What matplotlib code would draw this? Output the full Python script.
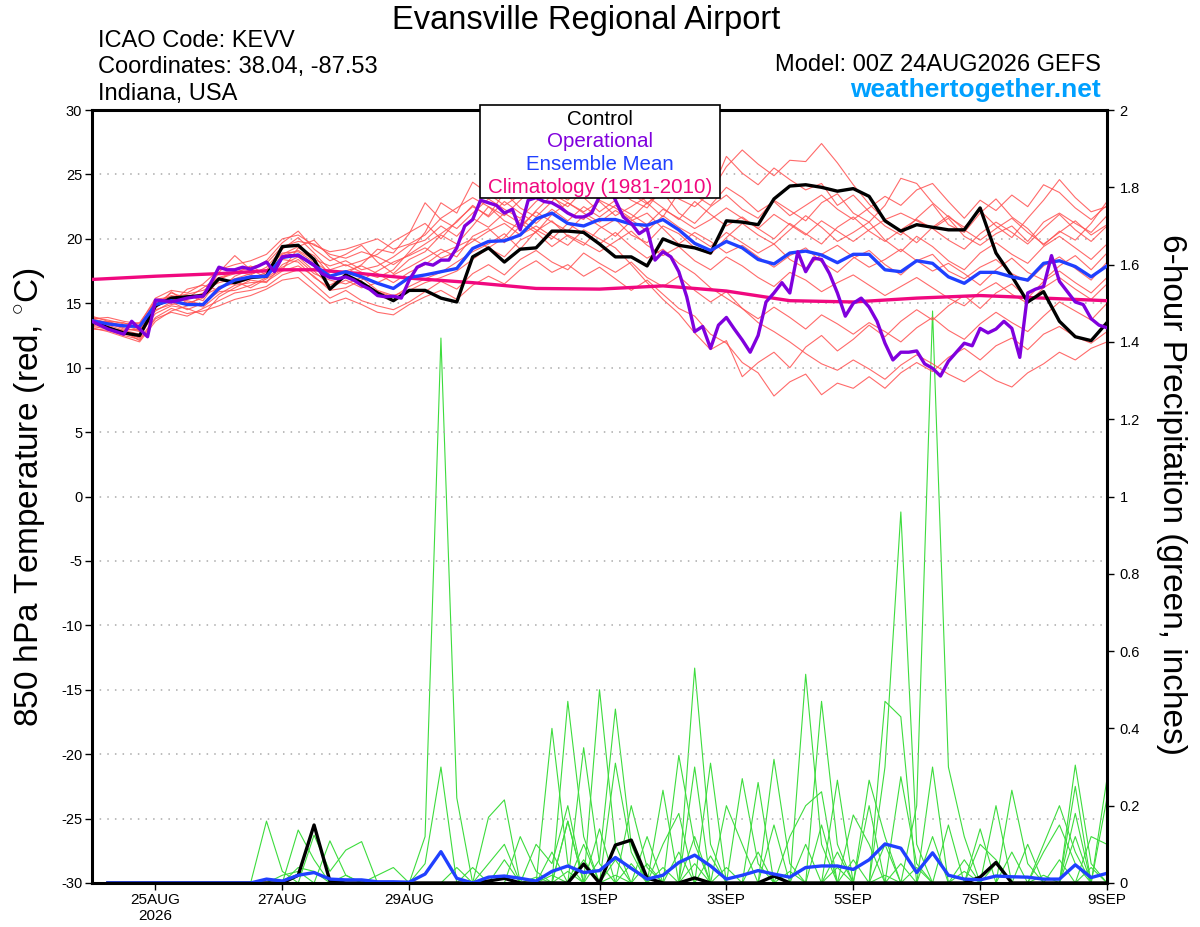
import numpy as np
import matplotlib.pyplot as plt
from matplotlib.patches import Rectangle

plt.rcParams['font.family'] = ['Liberation Sans', 'DejaVu Sans']
plt.rcParams['mathtext.fontset'] = 'custom'
plt.rcParams['mathtext.rm'] = 'Liberation Sans'
plt.rcParams['axes.unicode_minus'] = False

# time in days after 00Z 24AUG2026 (6-hourly ensemble, 3-hourly operational)
t_ens = np.arange(65) * 0.25
t_pcp = np.arange(1, 65) * 0.25
t_op = np.arange(129) * 0.125

tick_days = [1, 3, 5, 8, 10, 12, 14, 16]
tick_labels = ['25AUG\n2026', '27AUG', '29AUG', '1SEP', '3SEP', '5SEP', '7SEP', '9SEP']

# 850 hPa temperature (C)
control = [13.6, 13.1, 12.7, 12.5, 14.8, 15.4, 15.5, 15.6, 16.9, 16.6, 17.0, 17.1, 19.4, 19.5, 18.4, 16.1,
           17.2, 16.6, 15.8, 15.2, 16.0, 16.0, 15.4, 15.1, 18.6, 19.3, 18.2, 19.2, 19.3, 20.6, 20.6, 20.5,
           19.6, 18.6, 18.6, 17.9, 20.0, 19.5, 19.3, 18.9, 21.4, 21.3, 21.1, 23.1, 24.1, 24.2, 24.0, 23.7,
           23.9, 23.3, 21.4, 20.6, 21.1, 20.9, 20.7, 20.7, 22.4, 18.9, 17.1, 15.1, 15.9, 13.6, 12.4, 12.1, 13.5]

ens_mean = [13.65, 13.4, 13.25, 13.2, 14.9, 15.2, 14.9, 14.9, 16.15, 16.8, 17.05, 17.1, 18.55, 18.75, 17.95, 17.1,
            17.45, 17.05, 16.55, 16.15, 17.0, 17.2, 17.45, 17.7, 19.25, 19.8, 19.85, 20.3, 21.55, 22.0, 21.2, 21.0,
            21.5, 21.5, 21.15, 21.05, 21.5, 20.7, 19.65, 19.1, 19.8, 19.3, 18.4, 18.05, 18.9, 19.05, 18.75, 18.15,
            18.8, 18.8, 17.6, 17.45, 18.3, 18.1, 17.05, 16.55, 17.4, 17.4, 17.05, 16.8, 18.1, 18.3, 17.85, 17.05, 17.9]

operational = [13.6, 13.3, 13.0, 12.8, 12.6, 13.6, 13.0, 12.4, 15.25, 15.2, 15.1, 15.25, 15.4, 15.5, 15.55, 16.6,
               17.8, 17.6, 17.6, 17.8, 17.65, 17.9, 18.2, 17.45, 18.6, 18.7, 18.7, 18.35, 17.95, 17.3, 17.0, 16.9,
               17.05, 16.8, 16.4, 16.1, 15.6, 15.5, 15.55, 15.4, 16.8, 17.8, 18.1, 17.96, 18.35, 18.35, 19.3, 21.0,
               21.5, 23.0, 22.8, 22.6, 22.0, 22.3, 20.7, 23.0, 23.2, 22.9, 22.8, 22.45, 22.0, 21.7, 21.7, 22.0,
               23.3, 24.4, 23.0, 21.7, 21.2, 20.4, 20.8, 18.35, 19.0, 18.6, 17.45, 15.5, 12.8, 13.2, 11.5, 13.3,
               13.9, 13.0, 12.15, 11.2, 12.5, 15.1, 15.8, 16.6, 15.8, 19.0, 17.45, 18.5, 18.4, 17.3, 15.8, 14.0,
               15.0, 15.4, 14.7, 13.6, 11.9, 10.6, 11.2, 11.2, 11.3, 10.3, 9.95, 9.35, 10.5, 11.2, 11.9, 11.7,
               13.05, 12.7, 13.0, 13.6, 13.05, 10.8, 15.8, 16.1, 16.3, 18.7, 16.7, 15.9, 15.1, 14.9, 13.8, 13.3, 13.1]

clim_days = [0, 1, 2, 3, 3.5, 4.25, 5, 6, 7, 8, 9, 10, 11, 12, 13, 14, 15, 16]
climatology = [16.85, 17.1, 17.3, 17.6, 17.6, 17.3, 16.95, 16.6, 16.15, 16.1, 16.35, 15.95, 15.2, 15.1,
               15.4, 15.6, 15.4, 15.2]

# ensemble members, temperature
m01 = [13.8, 13.5, 13.0, 12.9, 15.0, 15.6, 15.3, 15.8, 16.8, 17.5, 17.2, 17.8, 19.2, 20.1, 18.9, 17.6,
       18.0, 17.4, 17.0, 17.6, 19.0, 20.5, 22.8, 22.0, 24.4, 23.5, 22.6, 23.4, 24.0, 23.2, 22.5, 23.8,
       24.6, 23.9, 23.0, 22.4, 24.0, 23.1, 22.5, 23.6, 25.6, 26.9, 25.8, 24.9, 26.1, 26.0, 27.4, 25.9,
       24.2, 22.7, 21.5, 22.0, 21.4, 20.8, 21.6, 20.2, 19.5, 20.4, 21.0, 19.8, 21.3, 22.0, 21.2, 20.5, 21.8]
m02 = [13.4, 13.2, 12.7, 12.3, 14.6, 15.9, 15.0, 15.4, 17.4, 18.7, 17.6, 17.0, 18.8, 19.4, 19.9, 18.6,
       17.9, 18.3, 18.8, 19.8, 20.5, 21.2, 20.0, 21.4, 22.5, 21.8, 23.6, 22.4, 21.7, 22.9, 24.5, 23.2,
       22.1, 23.0, 24.1, 22.8, 21.7, 23.6, 24.8, 23.5, 26.4, 25.1, 24.2, 25.5, 24.6, 23.8, 24.3, 22.6,
       23.4, 22.1, 21.0, 20.3, 21.6, 22.7, 21.1, 20.5, 22.0, 23.1, 21.7, 20.8, 19.5, 20.6, 19.9, 21.2, 22.9]
m03 = [13.9, 13.7, 13.4, 13.5, 15.2, 15.0, 16.1, 16.4, 16.0, 17.1, 17.6, 18.3, 19.7, 20.6, 19.2, 18.3,
       18.8, 19.5, 18.2, 17.3, 18.4, 19.0, 20.3, 19.6, 21.0, 22.5, 21.4, 20.8, 22.2, 23.4, 22.0, 21.5,
       23.0, 22.4, 21.6, 22.8, 23.6, 22.0, 21.2, 22.5, 23.4, 22.3, 21.6, 23.0, 22.2, 21.4, 22.8, 23.5,
       22.0, 21.3, 22.6, 24.7, 24.3, 22.8, 21.7, 20.9, 22.2, 21.0, 20.1, 21.6, 23.0, 24.6, 23.2, 22.1, 22.5]
m04 = [13.2, 13.0, 12.9, 12.6, 14.2, 14.8, 14.6, 14.1, 15.5, 16.2, 16.8, 16.6, 18.0, 18.6, 17.5, 16.4,
       17.1, 16.6, 15.9, 15.5, 16.3, 16.9, 17.4, 18.2, 19.0, 19.6, 20.4, 19.2, 20.6, 21.4, 20.2, 19.5,
       20.8, 21.5, 20.3, 19.7, 21.0, 20.4, 19.3, 18.8, 20.1, 21.2, 20.3, 19.6, 20.7, 21.8, 20.9, 19.8,
       20.5, 21.3, 19.9, 19.0, 20.2, 19.4, 18.3, 17.6, 18.9, 19.7, 18.8, 18.1, 19.4, 20.2, 19.3, 18.4, 19.6]
m05 = [13.5, 13.3, 12.9, 13.0, 14.8, 15.4, 15.2, 14.9, 16.3, 16.5, 16.9, 17.4, 18.4, 18.2, 17.0, 16.2,
       16.8, 16.2, 16.6, 17.2, 17.8, 18.5, 19.2, 18.6, 20.2, 20.8, 19.7, 21.0, 22.1, 21.3, 20.6, 21.8,
       21.0, 20.2, 21.4, 22.0, 20.8, 19.6, 20.5, 19.8, 18.9, 19.5, 18.6, 17.8, 18.7, 19.3, 18.2, 17.4,
       18.5, 19.1, 18.0, 17.2, 18.3, 18.8, 17.5, 16.9, 17.8, 18.4, 17.3, 16.7, 17.9, 18.6, 17.7, 16.8, 18.2]
m06 = [13.6, 13.4, 13.1, 12.8, 14.4, 15.1, 14.5, 15.0, 15.9, 16.0, 16.4, 17.0, 17.8, 18.4, 17.3, 16.8,
       16.5, 17.0, 16.0, 15.6, 16.0, 16.6, 17.0, 17.5, 18.4, 19.3, 18.6, 19.9, 20.5, 19.4, 20.3, 19.7,
       19.0, 19.8, 20.6, 19.5, 18.7, 19.4, 18.3, 17.6, 18.6, 17.9, 17.0, 16.3, 17.4, 16.8, 15.9, 16.6,
       17.2, 16.4, 15.6, 16.3, 17.0, 16.2, 15.4, 14.8, 15.9, 16.6, 15.7, 15.0, 16.2, 17.0, 16.1, 15.3, 16.5]
m07 = [13.3, 13.1, 12.8, 12.1, 13.8, 14.3, 14.0, 14.6, 15.2, 15.8, 16.0, 16.3, 17.2, 17.6, 16.5, 15.4,
       16.0, 15.2, 14.8, 14.5, 15.1, 15.9, 16.7, 16.1, 17.3, 18.0, 17.2, 18.4, 19.1, 18.2, 17.6, 18.9,
       18.1, 17.4, 18.2, 17.0, 16.3, 17.1, 16.0, 15.1, 15.9, 14.6, 13.8, 14.7, 13.9, 13.0, 14.1, 13.4,
       12.6, 13.5, 12.8, 12.0, 13.1, 13.9, 12.9, 12.2, 13.4, 14.3, 13.5, 12.8, 14.0, 15.1, 14.4, 13.7, 15.0]
m08 = [13.0, 12.9, 12.5, 12.2, 13.9, 14.6, 14.2, 14.4, 14.8, 15.3, 15.6, 16.1, 16.8, 17.0, 16.0, 15.0,
       15.4, 14.9, 14.3, 14.1, 14.9, 15.5, 16.0, 15.3, 16.4, 17.1, 16.5, 17.6, 18.3, 17.4, 18.0, 17.1,
       17.8, 16.9, 16.0, 16.8, 15.7, 14.6, 14.0, 12.6, 11.9, 10.4, 9.6, 7.8, 8.9, 9.5, 7.9, 8.8,
       8.4, 9.3, 8.4, 9.6, 10.4, 9.7, 10.8, 11.5, 10.6, 11.7, 12.3, 11.4, 12.6, 13.2, 12.4, 11.9, 12.8]
m09 = [13.7, 13.5, 13.3, 12.9, 15.3, 15.5, 15.7, 16.0, 16.6, 16.9, 17.3, 17.6, 18.9, 19.0, 18.2, 17.4,
       17.5, 17.9, 17.3, 16.6, 17.4, 18.0, 18.9, 19.4, 20.0, 19.3, 20.1, 21.5, 20.7, 20.0, 21.2, 20.4,
       19.6, 20.5, 19.4, 18.5, 19.2, 18.1, 17.3, 16.2, 15.4, 14.6, 13.5, 12.8, 12.0, 11.1, 10.3, 9.8,
       10.6, 9.9, 9.1, 10.2, 11.0, 10.3, 9.5, 8.9, 9.8, 9.0, 8.5, 9.6, 10.3, 11.2, 10.6, 11.5, 12.0]
m10 = [13.4, 13.6, 13.2, 13.3, 15.0, 15.3, 15.6, 15.2, 16.9, 17.3, 17.9, 17.2, 18.7, 19.1, 18.4, 17.9,
       18.3, 17.6, 17.9, 18.6, 19.5, 19.9, 21.0, 20.2, 21.6, 20.9, 22.0, 21.2, 20.5, 21.9, 22.8, 22.0,
       21.3, 22.2, 21.5, 20.6, 21.8, 20.9, 20.2, 19.4, 20.5, 19.7, 18.9, 19.6, 18.4, 17.7, 18.8, 19.5,
       18.6, 17.8, 18.4, 19.2, 18.3, 17.5, 18.1, 17.3, 16.4, 17.6, 18.5, 17.4, 16.8, 17.9, 18.7, 17.6, 18.9]
m11 = [13.1, 12.8, 12.4, 12.0, 13.6, 14.4, 14.8, 15.6, 16.2, 16.7, 16.2, 16.9, 17.6, 19.3, 18.7, 17.2,
       17.3, 18.0, 19.2, 18.9, 20.4, 22.8, 21.5, 20.8, 22.0, 23.1, 22.3, 21.6, 22.9, 23.8, 23.0, 24.2,
       23.4, 24.6, 23.5, 22.7, 23.9, 24.8, 23.4, 22.6, 24.0, 23.2, 22.1, 22.9, 21.8, 22.6, 23.4, 22.3,
       21.5, 22.4, 23.3, 22.6, 23.8, 24.3, 22.9, 21.6, 23.0, 22.2, 23.4, 22.5, 24.2, 23.6, 22.4, 21.5, 22.6]
m12 = [13.8, 13.9, 13.6, 13.4, 15.4, 16.0, 15.8, 16.5, 17.6, 18.0, 18.3, 18.8, 20.0, 20.3, 19.5, 19.0,
       19.2, 19.6, 20.0, 19.2, 19.6, 20.3, 21.6, 22.4, 23.2, 22.5, 21.8, 23.0, 24.1, 23.5, 22.8, 22.1,
       22.9, 21.8, 22.5, 23.3, 22.4, 21.5, 22.9, 21.9, 21.0, 21.7, 20.8, 20.0, 21.2, 20.4, 19.6, 20.9,
       21.7, 20.6, 19.8, 20.7, 21.5, 20.8, 19.9, 19.2, 20.4, 21.3, 20.5, 19.6, 20.8, 21.9, 20.7, 19.8, 21.0]
m13 = [13.5, 13.2, 12.6, 12.4, 14.5, 14.9, 15.1, 14.7, 15.7, 16.4, 16.6, 16.7, 17.5, 17.9, 17.1, 16.0,
       16.2, 16.8, 17.5, 18.2, 18.7, 19.3, 18.5, 19.0, 19.8, 20.6, 21.2, 20.3, 21.0, 20.2, 19.5, 20.7,
       20.0, 19.3, 18.0, 16.6, 15.3, 14.2, 12.7, 11.4, 12.1, 9.3, 10.4, 11.2, 10.0, 11.6, 12.5, 11.3,
       12.2, 13.3, 12.4, 13.6, 14.5, 13.7, 14.8, 15.6, 14.6, 15.8, 16.5, 15.4, 16.7, 17.5, 16.6, 15.8, 17.0]
m14 = [14.0, 13.6, 13.5, 13.0, 14.9, 15.8, 15.4, 16.2, 17.0, 17.4, 17.8, 18.1, 19.4, 19.8, 19.6, 18.8,
       18.5, 19.0, 18.6, 18.0, 18.8, 19.6, 20.4, 21.3, 22.6, 21.7, 22.9, 22.0, 21.2, 22.3, 21.4, 22.5,
       21.7, 22.6, 21.9, 21.1, 22.3, 21.6, 20.8, 21.5, 22.4, 21.6, 20.8, 21.9, 21.1, 20.3, 21.4, 20.6,
       19.8, 20.7, 21.5, 20.6, 19.7, 20.9, 21.8, 20.7, 19.9, 20.8, 21.6, 20.5, 19.6, 20.5, 21.4, 20.3, 21.1]
temp_members = [m01, m02, m03, m04, m05, m06, m07, m08, m09, m10, m11, m12, m13, m14]

# 6-hour precipitation (inches), 06Z 24AUG .. 00Z 9SEP
pcp_control = [0, 0, 0, 0, 0, 0, 0, 0, 0, 0, 0, 0,
               .02, .15, .005, 0, 0, 0, 0, 0, 0, 0, 0, 0, .005,
               .012, 0, 0, 0, 0, .049, 0, .098, .111, .013, 0, 0, .013,
               0, 0, 0, 0, .018, 0, 0, 0, 0, 0, 0, 0, 0,
               0, 0, 0, 0, .015, .053, 0, 0, 0, 0, 0, 0, 0]
pcp_mean = [0, 0, 0, 0, 0, 0, 0, 0, 0, 0, .01, .005,
            .02, .027, .01, .008, .008, .003, .003, .002, .023, .081, .012, 0, .015,
            .018, .012, .005, .03, .044, .027, .032, .066, .038, .01, .02, .053, .072,
            .044, .01, .02, .032, .023, .015, .04, .044, .044, .035, .06, .101, .09,
            .027, .078, .02, .01, .008, .018, .016, .015, .01, .01, .047, .014, .025]

g01 = [0, 0, 0, 0, 0, 0, 0, 0, 0, 0, 0, 0,
       0, 0, 0, 0, 0, 0, 0, 0, .12, 1.41, .22, 0, 0,
       0, 0, 0, 0, .16, 0, 0, 0, 0, 0, 0, 0, .05,
       0, 0, 0, 0, 0, 0, 0, 0, 0, 0, 0, .02, 0,
       0, 0, 0, 0, 0, 0, 0, 0, 0, 0, 0, 0, 0]
g02 = [0, 0, 0, 0, 0, 0, 0, 0, 0, 0, 0, 0,
       0, 0, 0, 0, 0, 0, 0, 0, .05, .30, 0, 0, .17,
       .215, 0, 0, 0, 0, 0, 0, .31, .08, 0, 0, 0, 0,
       0, 0, 0, 0, 0, 0, .54, .10, 0, 0, 0, 0, 0,
       0, 0, 0, 0, 0, 0, 0, 0, 0, 0, .25, 0, 0]
g03 = [0, 0, 0, 0, 0, 0, 0, 0, 0, 0, .16, .03,
       0, 0, 0, 0, 0, 0, 0, 0, 0, 0, 0, 0, 0,
       0, 0, 0, .40, .05, 0, 0, 0, 0, 0, 0, .33, .10,
       0, 0, 0, 0, 0, 0, 0, 0, 0, 0, 0, .30, .96,
       .10, 0, 0, 0, 0, .20, 0, 0, 0, 0, 0, 0, 0]
g04 = [0, 0, 0, 0, 0, 0, 0, 0, 0, 0, 0, 0,
       .137, .06, 0, 0, 0, 0, 0, 0, 0, 0, 0, 0, 0,
       0, 0, 0, 0, .47, .12, 0, 0, 0, 0, 0, 0, .556,
       .10, 0, 0, 0, 0, 0, 0, 0, 0, 0, 0, 0, 0,
       .20, 1.48, .30, .12, 0, 0, 0, 0, 0, 0, 0, 0, 0]
g05 = [0, 0, 0, 0, 0, 0, 0, 0, 0, 0, 0, 0,
       0, .124, .03, .085, .107, 0, 0, 0, 0, 0, 0, 0, 0,
       0, 0, 0, 0, 0, .35, .05, 0, 0, 0, .24, 0, 0,
       0, 0, .27, .05, 0, 0, 0, 0, 0, 0, 0, .47, .43,
       0, 0, 0, 0, 0, 0, 0, 0, 0, 0, .305, .05, 0]
g06 = [0, 0, 0, 0, 0, 0, 0, 0, 0, 0, 0, 0,
       0, 0, .109, .02, 0, 0, 0, 0, 0, 0, 0, 0, 0,
       0, 0, 0, 0, 0, 0, .50, .10, 0, 0, 0, 0, 0,
       .31, 0, 0, 0, 0, 0, 0, .47, .10, 0, 0, 0, 0,
       0, 0, 0, 0, 0, 0, .24, .05, 0, 0, 0, 0, 0]
g07 = [0, 0, 0, 0, 0, 0, 0, 0, 0, 0, 0, 0,
       0, 0, 0, 0, 0, .02, .04, 0, 0, 0, 0, 0, .05,
       .10, 0, 0, 0, 0, 0, .06, .45, .10, 0, 0, 0, 0,
       0, 0, 0, 0, .32, .05, 0, 0, 0, .176, .10, 0, 0,
       0, 0, 0, 0, 0, 0, 0, 0, 0, 0, 0, 0, .27]
g08 = [0, 0, 0, 0, 0, 0, 0, 0, 0, 0, 0, 0,
       0, 0, 0, 0, 0, 0, 0, 0, 0, 0, 0, 0, 0,
       0, 0, .10, .05, .20, 0, 0, 0, .20, .04, 0, 0, .30,
       0, 0, 0, .26, 0, 0, 0, 0, .266, 0, .266, .12, 0,
       0, 0, 0, 0, 0, 0, 0, 0, .08, .15, .05, 0, 0]
g09 = [0, 0, 0, 0, 0, 0, 0, 0, 0, 0, 0, 0,
       0, 0, 0, 0, 0, 0, 0, 0, 0, 0, 0, .04, 0,
       0, .12, .03, 0, 0, 0, 0, .06, 0, 0, .10, .18, 0,
       0, 0, 0, 0, 0, .12, .20, .236, 0, 0, 0, 0, 0,
       0, .12, 0, 0, .10, .06, 0, 0, 0, 0, 0, .12, .10]
g10 = [0, 0, 0, 0, 0, 0, 0, 0, 0, 0, 0, 0,
       .04, .03, 0, 0, 0, 0, 0, 0, 0, 0, .04, 0, 0,
       0, 0, 0, .08, 0, .10, 0, 0, 0, .12, 0, 0, 0,
       0, .20, .10, 0, 0, 0, 0, 0, 0, 0, 0, 0, .275,
       .05, 0, 0, .06, 0, 0, 0, 0, .10, .20, .08, 0, 0]
g11 = [0, 0, 0, 0, 0, 0, 0, 0, 0, 0, 0, .02,
       .03, 0, 0, 0, 0, 0, 0, 0, 0, 0, 0, 0, 0,
       .06, 0, 0, 0, .16, 0, 0, 0, .05, 0, 0, 0, 0,
       .07, 0, 0, 0, .15, 0, 0, 0, .08, 0, .20, 0, 0,
       0, 0, .15, 0, 0, 0, .08, 0, 0, 0, .12, 0, .22]
g12 = [0, 0, 0, 0, 0, 0, 0, 0, 0, 0, 0, 0,
       0, 0, 0, .02, 0, 0, 0, 0, 0, 0, 0, 0, 0,
       0, 0, 0, 0, .03, 0, .14, 0, 0, 0, 0, .08, 0,
       0, .04, 0, 0, 0, 0, 0, .15, 0, .06, 0, 0, 0,
       .04, 0, 0, 0, .14, 0, 0, .10, 0, 0, .18, 0, 0]
g13 = [0, 0, 0, 0, 0, 0, 0, 0, 0, 0, 0, 0,
       0, 0, 0, 0, 0, 0, 0, 0, 0, 0, 0, 0, 0,
       0, 0, 0, .02, 0, .06, 0, 0, 0, .05, 0, 0, .12,
       0, 0, 0, .08, 0, 0, .10, 0, 0, 0, 0, .10, 0,
       0, .30, 0, 0, 0, .05, 0, 0, 0, .06, 0, 0, 0]
g14 = [0, 0, 0, 0, 0, 0, 0, 0, 0, 0, 0, 0,
       0, 0, 0, 0, 0, 0, 0, 0, 0, 0, 0, 0, 0,
       0, 0, .015, 0, 0, 0, 0, .02, 0, 0, .04, 0, 0,
       0, 0, 0, 0, 0, .03, 0, 0, .04, 0, 0, 0, .05,
       0, 0, 0, .03, 0, 0, 0, 0, .02, 0, 0, .04, 0]
pcp_members = [g01, g02, g03, g04, g05, g06, g07, g08, g09, g10, g11, g12, g13, g14]

c_oper = '#8000dd'
c_mean = '#2040ff'
c_clim = '#f0087f'

fig = plt.figure(figsize=(12, 9.27), dpi=100)
ax = fig.add_axes([0.0767, 0.0475, 0.8458, 0.8338])
ax2 = ax.twinx()
ax.set_zorder(2)
ax.patch.set_visible(False)

# precipitation (right axis, behind temperatures)
for g in pcp_members:
    ax2.plot(t_pcp, g, color='#3ddc3d', lw=0.8)
ax2.plot(t_pcp, pcp_control, color='black', lw=2.4, zorder=5)
ax2.plot(t_pcp, pcp_mean, color=c_mean, lw=2.4, zorder=6)
ax2.set_ylim(0, 2)
ax2.set_yticks(np.arange(0, 2.01, 0.2))
ax2.set_yticklabels(['0', '0.2', '0.4', '0.6', '0.8', '1', '1.2', '1.4', '1.6', '1.8', '2'])
for s in ax2.spines.values():
    s.set_visible(False)
ax2.tick_params(axis='y', direction='out', length=5, width=1, labelsize=10.5, pad=4)

# temperature (left axis)
for m in temp_members:
    ax.plot(t_ens, m, color='#ff5050', lw=0.8, alpha=0.85, zorder=1)
ax.plot(clim_days, climatology, color=c_clim, lw=2.4, zorder=3)
ax.plot(t_ens, control, color='black', lw=2.4, zorder=4)
ax.plot(t_ens, ens_mean, color=c_mean, lw=2.4, zorder=5)
ax.plot(t_op, operational, color=c_oper, lw=2.4, zorder=6)

ax.set_xlim(0, 16)
ax.set_ylim(-30, 30)
ax.set_yticks(range(-30, 31, 5))
ax.set_xticks(tick_days)
ax.set_xticklabels(tick_labels)
ax.yaxis.grid(True, color='#aaaaaa', linestyle=(0, (1, 4)), linewidth=1.1)
ax.set_axisbelow(True)
for s in ax.spines.values():
    s.set_linewidth(2.2)
ax.tick_params(axis='y', direction='out', length=5, width=1, labelsize=10.5, pad=2)
ax.tick_params(axis='x', direction='out', length=5, width=1, labelsize=11, pad=2)

# legend box
ax.add_patch(Rectangle((0.3823, 0.8862), 0.2364, 0.1203, transform=ax.transAxes,
                       facecolor='white', edgecolor='black', lw=1.2, zorder=10, clip_on=False))
leg = [('Control', 'black', 0.9811), ('Operational', c_oper, 0.9517),
       ('Ensemble Mean', c_mean, 0.9224), ('Climatology (1981-2010)', c_clim, 0.893)]
for txt, col, yy in leg:
    ax.text(0.5005, yy, txt, color=col, fontsize=14.8, ha='center', va='baseline',
            transform=ax.transAxes, zorder=11)

# axis titles
fig.text(30 / 1200, 1 - 497 / 927, '850 hPa Temperature (red, $^{\\circ}$C)', rotation=90,
         ha='center', va='center', fontsize=24)
fig.text(1172 / 1200, 1 - 495 / 927, '6-hour Precipitation (green, inches)', rotation=270,
         ha='center', va='center', fontsize=24)

# header
fig.text(586 / 1200, 1 - 28.5 / 927, 'Evansville Regional Airport', ha='center', va='baseline', fontsize=23.5)
fig.text(98 / 1200, 1 - 46.7 / 927, 'ICAO Code: KEVV', ha='left', va='baseline', fontsize=17)
fig.text(98 / 1200, 1 - 73 / 927, 'Coordinates: 38.04, -87.53', ha='left', va='baseline', fontsize=17)
fig.text(98 / 1200, 1 - 100 / 927, 'Indiana, USA', ha='left', va='baseline', fontsize=17)
fig.text(1101 / 1200, 1 - 71 / 927, 'Model: 00Z 24AUG2026 GEFS', ha='right', va='baseline', fontsize=17)
fig.text(1101 / 1200, 1 - 96.5 / 927, 'weathertogether.net', ha='right', va='baseline', fontsize=19,
         fontweight='bold', color='#00a0ff')

fig.savefig('out.png', dpi=100)
